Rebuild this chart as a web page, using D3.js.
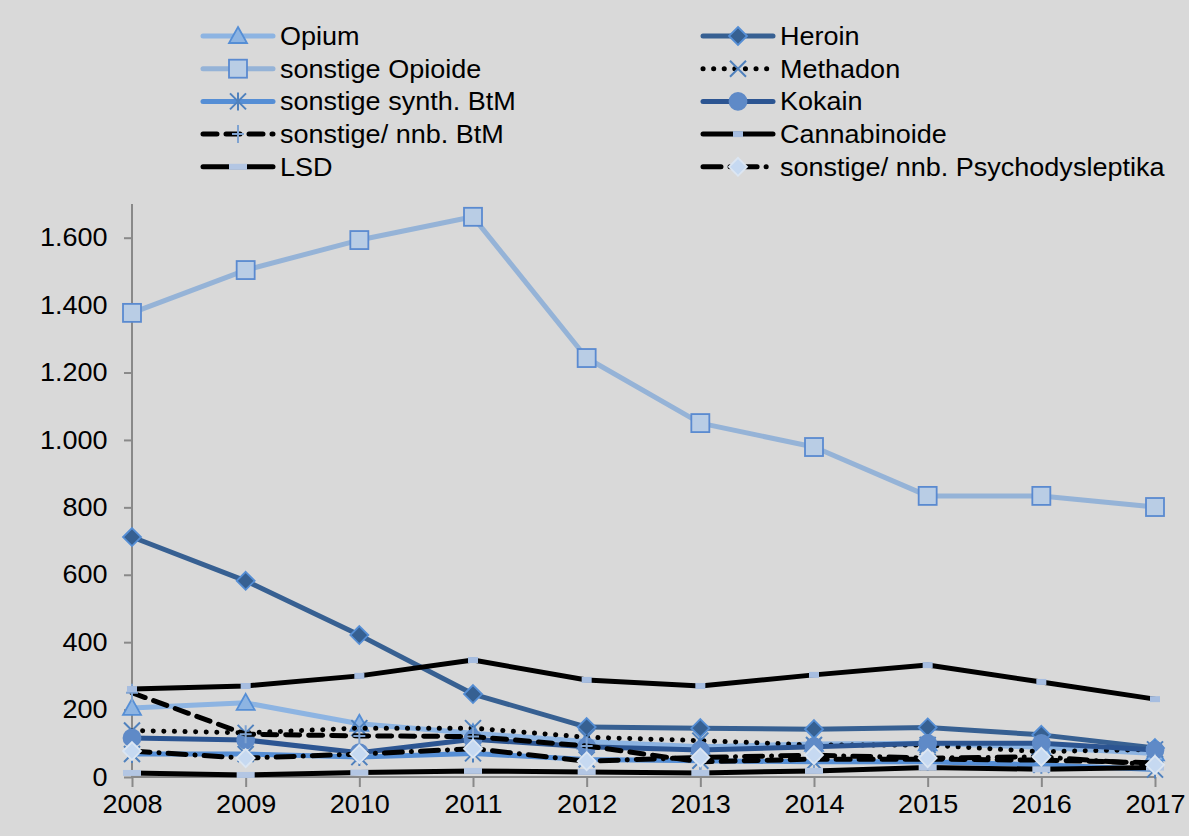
<!DOCTYPE html>
<html>
<head>
<meta charset="utf-8">
<script src="https://cdn.jsdelivr.net/npm/d3@7"></script>
<style>
    html, body { margin: 0; padding: 0; background: #d9d9d9; }
    text { font-family: "Liberation Sans", Arial, sans-serif; fill: #000; }
</style>
</head>
<body>
<div id="chart"></div>
<script>
"use strict";

// Werte
const years = [2008, 2009, 2010, 2011, 2012, 2013, 2014, 2015, 2016, 2017];
const opium = [205, 220, 158, 130, 105, 90, 98, 100, 88, 70];
const heroin = [712, 582, 421, 246, 148, 145, 142, 147, 125, 86];
const opioide = [1377, 1504, 1593, 1662, 1243, 1050, 979, 834, 834, 801];
const methadon = [138, 131, 145, 145, 118, 108, 95, 95, 75, 82];
const synthBtm = [68, 68, 59, 70, 52, 48, 45, 45, 36, 22];
const kokain = [116, 110, 72, 112, 90, 80, 90, 100, 100, 80];
const btm = [250, 127, 122, 120, 92, 45, 53, 53, 50, 42];
const cannabis = [261, 270, 300, 347, 288, 270, 303, 332, 282, 231];
const lsd = [12, 6, 13, 18, 15, 12, 18, 28, 23, 28];
const psych = [77, 56, 68, 84, 47, 58, 65, 56, 60, 36];
const yTicks = [0, 200, 400, 600, 800, 1000, 1200, 1400, 1600];

const series = [
    { name: "Opium", values: opium, color: "#8db4e2", width: 5, dash: null, marker: "triangle", fill: "#8db4e2", stroke: "#558ed5" },
    { name: "Heroin", values: heroin, color: "#376092", width: 5, dash: null, marker: "diamond", fill: "#366092", stroke: "#558ed5" },
    { name: "sonstige Opioide", values: opioide, color: "#95b3d7", width: 5, dash: null, marker: "square", fill: "#b9cde5", stroke: "#5a8ad0" },
    { name: "Methadon", values: methadon, color: "#000", width: 5, dash: "0.1 10.5", marker: "x", fill: "none", stroke: "#4f81bd" },
    { name: "sonstige synth. BtM", values: synthBtm, color: "#558ed5", width: 5, dash: null, marker: "asterisk", fill: "none", stroke: "#4f81bd" },
    { name: "Kokain", values: kokain, color: "#2c5592", width: 5, dash: null, marker: "circle", fill: "#5f8ac7", stroke: "#5f8ac7" },
    { name: "sonstige/ nnb. BtM", values: btm, color: "#000", width: 5, dash: "14 9", marker: "plus", fill: "none", stroke: "#7fa3d1" },
    { name: "Cannabinoide", values: cannabis, color: "#000", width: 5, dash: null, marker: "dashSmall", fill: "#a6bde0", stroke: "none" },
    { name: "LSD", values: lsd, color: "#000", width: 5, dash: null, marker: "dashWide", fill: "#b3c6e3", stroke: "none" },
    { name: "sonstige/ nnb. Psychodysleptika", values: psych, color: "#000", width: 5, dash: "18 9 0.1 9", marker: "diamond", fill: "#c6d9f1", stroke: "#dce6f2" }
];

const width = 1189, height = 836;
const margin = { left: 132, right: 34, top: 204, bottom: 59 };
const fontSize = 25.5, stretch = 1.06; // Schrift der Vorlage ist leicht breitgezogen

const svg = d3.select("#chart").append("svg")
    .attr("width", width)
    .attr("height", height);

svg.append("rect")
    .attr("width", width)
    .attr("height", height)
    .style("fill", "#d9d9d9");

const x = d3.scalePoint()
    .domain(years)
    .range([margin.left, width - margin.right]);

const y = d3.scaleLinear()
    .domain([0, 1700])
    .range([height - margin.bottom, margin.top]);

const fmt = d3.formatLocale({ decimal: ",", thousands: ".", grouping: [3], currency: ["", "€"] }).format(",d");

// Achsen
const yAxis = svg.append("g")
    .attr("transform", `translate(${margin.left},0)`)
    .call(d3.axisLeft(y).tickValues(yTicks).tickFormat(fmt).tickSize(8).tickPadding(15));

const xAxis = svg.append("g")
    .attr("transform", `translate(0,${y(0)})`)
    .call(d3.axisBottom(x).tickSize(10).tickPadding(8));

[yAxis, xAxis].forEach(axis => {
    axis.select(".domain").style("stroke", "#898989").style("stroke-width", 2);
    axis.selectAll(".tick line").style("stroke", "#898989").style("stroke-width", 2);
    axis.selectAll(".tick text")
        .style("font-family", "'Liberation Sans', Arial, sans-serif")
        .style("font-size", fontSize + "px")
        .style("fill", "#000")
        .attr("transform", `scale(${stretch},1)`);
});
yAxis.select(".domain").attr("d", `M0,${y(1700)}V${y(0)}`);
xAxis.select(".domain").attr("d", `M${x(years[0])},0H${x(years[years.length - 1])}`);

function drawMarker(g, s, cx, cy) {
    let m;
    switch (s.marker) {
        case "triangle":
            m = g.append("path").attr("d", `M${cx},${cy - 9}L${cx + 9},${cy + 7}L${cx - 9},${cy + 7}Z`);
            break;
        case "diamond":
            m = g.append("path").attr("d", `M${cx},${cy - 9}L${cx + 9},${cy}L${cx},${cy + 9}L${cx - 9},${cy}Z`);
            break;
        case "square":
            m = g.append("rect").attr("x", cx - 9).attr("y", cy - 9).attr("width", 18).attr("height", 18);
            break;
        case "circle":
            m = g.append("circle").attr("cx", cx).attr("cy", cy).attr("r", 8.5);
            break;
        case "x":
            m = g.append("path").attr("d", `M${cx - 8},${cy - 8}L${cx + 8},${cy + 8}M${cx + 8},${cy - 8}L${cx - 8},${cy + 8}`);
            break;
        case "asterisk":
            m = g.append("path").attr("d", `M${cx - 8},${cy - 8}L${cx + 8},${cy + 8}M${cx + 8},${cy - 8}L${cx - 8},${cy + 8}M${cx},${cy - 9}V${cy + 9}`);
            break;
        case "plus":
            m = g.append("path").attr("d", `M${cx},${cy - 9}V${cy + 9}M${cx - 6},${cy}H${cx + 6}`);
            break;
        case "dashSmall":
            m = g.append("rect").attr("x", cx - 5).attr("y", cy - 3).attr("width", 10).attr("height", 6);
            break;
        case "dashWide":
            m = g.append("rect").attr("x", cx - 9).attr("y", cy - 3).attr("width", 18).attr("height", 6);
            break;
    }
    m.style("fill", s.fill)
        .style("stroke", s.stroke)
        .style("stroke-width", s.marker === "x" || s.marker === "asterisk" || s.marker === "plus" ? 2 : 1.8);
}

function styleLine(sel, s) {
    sel.style("fill", "none")
        .style("stroke", s.color)
        .style("stroke-width", s.width)
        .style("stroke-linecap", "round")
        .style("stroke-linejoin", "round");
    if (s.dash) sel.style("stroke-dasharray", s.dash);
}

const line = d3.line()
    .x((d, i) => x(years[i]))
    .y(d => y(d));

// Linien und Markierungen
series.forEach(s => {
    const g = svg.append("g").attr("class", "series");
    styleLine(g.append("path").datum(s.values).attr("d", line), s);
    s.values.forEach((v, i) => drawMarker(g, s, x(years[i]), y(v)));
});

// Legende
const legend = svg.append("g").attr("class", "legend");
series.forEach((s, i) => {
    const col = i % 2, row = Math.floor(i / 2);
    const lx = col === 0 ? 203 : 703;
    const ly = 36 + row * 32.7;
    const item = legend.append("g");
    styleLine(item.append("path").attr("d", `M${lx},${ly}H${lx + 70}`), s);
    drawMarker(item, s, lx + 35, ly);
    item.append("text")
        .attr("transform", `translate(${lx + 77},${ly + 9}) scale(${stretch},1)`)
        .style("font-size", fontSize + "px")
        .text(s.name);
});
</script>
</body>
</html>
